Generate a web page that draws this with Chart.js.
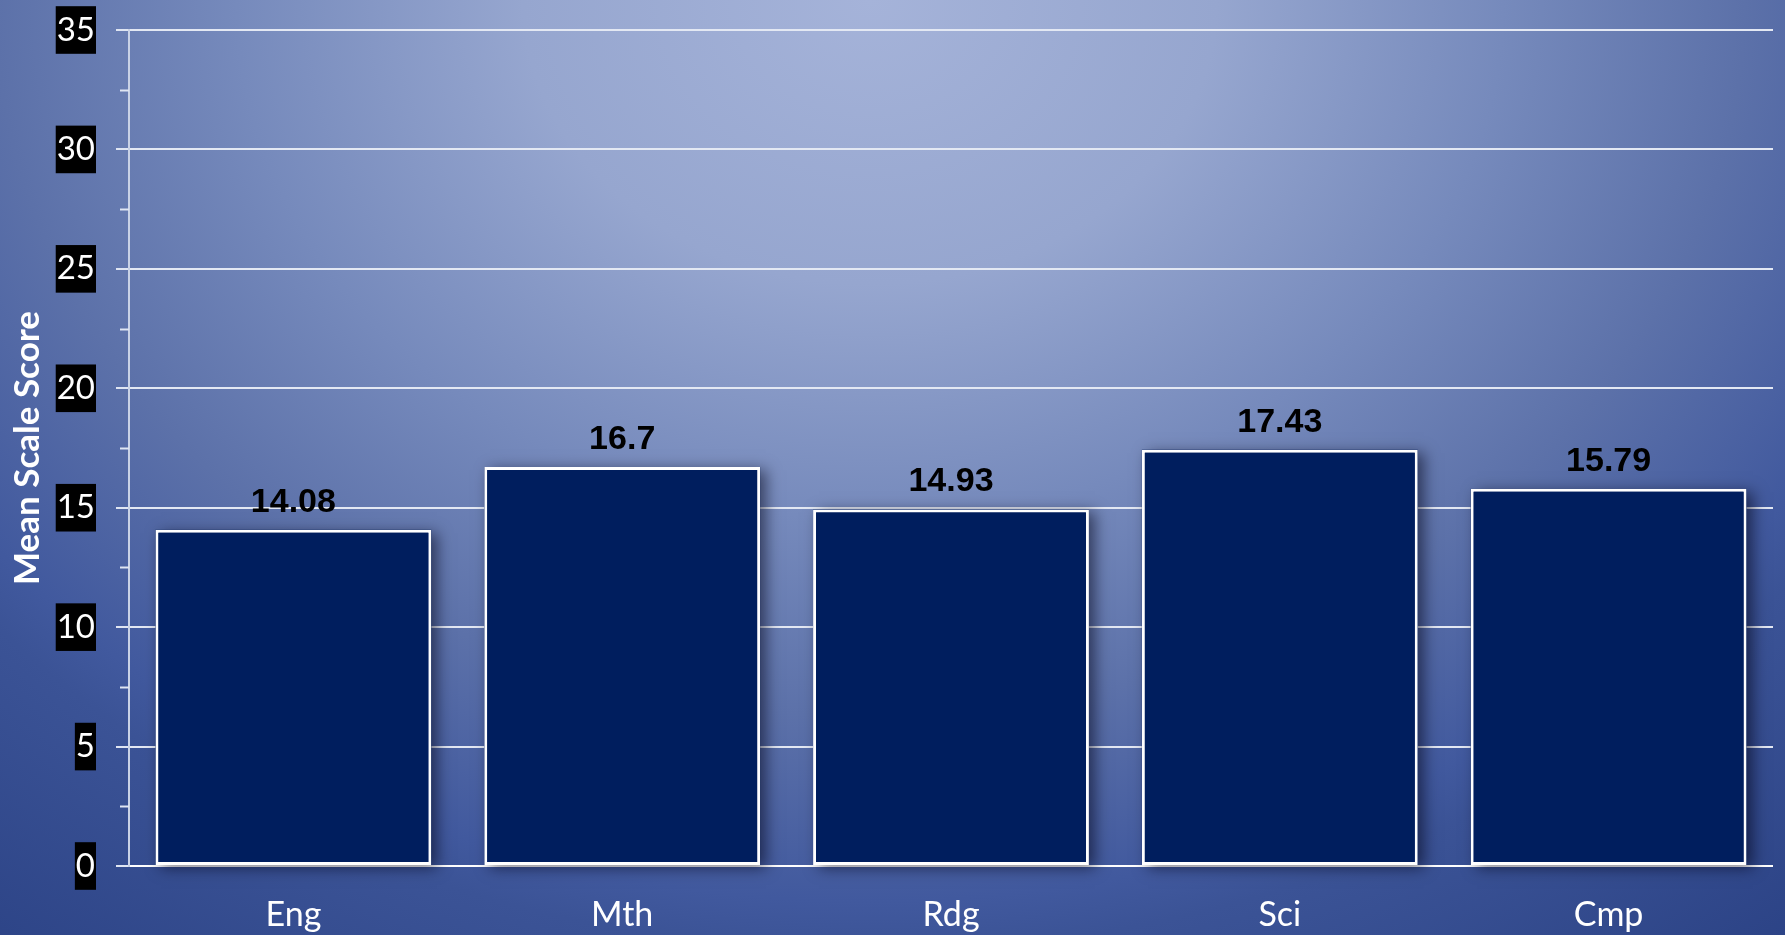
<!DOCTYPE html>
<html>
<head>
<meta charset="utf-8">
<script src="https://cdn.jsdelivr.net/npm/chart.js@4.4.1/dist/chart.umd.min.js"></script>
<style>
    html, body { margin: 0; padding: 0; }
    body { width: 1785px; height: 935px; overflow: hidden; }
    #wrap { position: relative; width: 1785px; height: 935px; }
</style>
</head>
<body>
<div id="wrap"><canvas id="score-chart"></canvas></div>
<script>
/* ======== DATA ======== */
const subjects = ["Eng", "Mth", "Rdg", "Sci", "Cmp"]
const meanScores = [14.08, 16.7, 14.93, 17.43, 15.79]
const yMin = 0
const yMax = 35
const yStep = 5

/* ======== PLUGINS ======== */
// slide style background: light glow at the top, darker blue toward the edges
const backgroundPlugin = {
    id: 'slideBackground',
    beforeDraw(chart) {
        const ctx = chart.ctx
        const sx = 1160 / 950
        ctx.save()
        ctx.translate(870, 0)
        ctx.scale(sx, 1)
        const R = 950 * 1.3
        const g = ctx.createRadialGradient(0, 0, 0, 0, 0, R)
        g.addColorStop(0, '#a5b3d9')
        g.addColorStop(0.23, '#96a6cf')
        g.addColorStop(0.42, '#768abc')
        g.addColorStop(0.58, '#5c71a9')
        g.addColorStop(0.73, '#41599e')
        g.addColorStop(0.77, '#3b5396')
        g.addColorStop(1, '#2a4184')
        ctx.fillStyle = g
        ctx.fillRect(-870 / sx, 0, chart.width / sx, chart.height)
        ctx.restore()
    }
}

// soft drop shadow behind each bar, the bar itself covers the rectangle
const barShadowPlugin = {
    id: 'barShadow',
    beforeDatasetsDraw(chart) {
        const ctx = chart.ctx
        ctx.save()
        ctx.shadowColor = 'rgba(0, 0, 20, 0.55)'
        ctx.shadowBlur = 14
        ctx.shadowOffsetX = 6
        ctx.shadowOffsetY = 3
        ctx.fillStyle = '#001e5e'
        chart.getDatasetMeta(0).data.forEach((bar) => {
            const p = bar.getProps(['x', 'y', 'base', 'width'], true)
            ctx.fillRect(p.x - p.width / 2, p.y, p.width, p.base - p.y)
        })
        ctx.restore()
    }
}

// value labels above the bars
const valueLabelPlugin = {
    id: 'valueLabels',
    afterDatasetsDraw(chart) {
        const ctx = chart.ctx
        ctx.save()
        ctx.font = 'bold 34px "Liberation Sans", Arial, sans-serif'
        ctx.fillStyle = '#000000'
        ctx.textAlign = 'center'
        ctx.textBaseline = 'alphabetic'
        chart.getDatasetMeta(0).data.forEach((bar, i) => {
            const p = bar.getProps(['x', 'y'], true)
            ctx.fillText(String(meanScores[i]), p.x, p.y - 18)
        })
        ctx.restore()
    }
}

// short minor ticks half way between the major ones
const minorTickPlugin = {
    id: 'minorTicks',
    afterDraw(chart) {
        const y = chart.scales.y
        const ctx = chart.ctx
        ctx.save()
        ctx.strokeStyle = '#dfe5f2'
        ctx.lineWidth = 2
        for (let v = yMin + yStep / 2; v < yMax; v += yStep) {
            const py = Math.round(y.getPixelForValue(v)) + 0.5
            ctx.beginPath()
            ctx.moveTo(y.right - 9, py)
            ctx.lineTo(y.right, py)
            ctx.stroke()
        }
        ctx.restore()
    }
}

/* ======== CHART ======== */
const ctxScore = document.getElementById("score-chart").getContext("2d")
const scoreChart = new Chart(ctxScore, {
    type: 'bar',
    data: {
        labels: subjects,
        datasets: [{
            data: meanScores,
            label: "Mean Scale Score",
            backgroundColor: '#001e5e',
            borderColor: '#ffffff',
            borderWidth: 3,
            borderSkipped: false,
            categoryPercentage: 1.0,
            barPercentage: 0.839
        }]
    },
    options: {
        responsive: true,
        maintainAspectRatio: false,
        animation: false,
        layout: {
            padding: { top: 30, right: 12, left: 0, bottom: 0 }
        },
        plugins: {
            legend: { display: false },
            tooltip: { enabled: false }
        },
        scales: {
            x: {
                grid: { display: false, drawTicks: false },
                border: { display: false },
                ticks: {
                    color: '#ffffff',
                    padding: 29,
                    font: { family: 'Lato', size: 34 }
                },
                afterFit(scale) { scale.height = 69 }
            },
            y: {
                min: yMin,
                max: yMax,
                grid: {
                    color: (c) => c.tick && c.tick.value === 0 ? '#ffffff' : '#e3e8f3',
                    lineWidth: 2,
                    tickLength: 13,
                    tickColor: '#dfe5f2'
                },
                border: { display: true, color: '#c9d2e6', width: 2 },
                ticks: {
                    stepSize: yStep,
                    color: '#ffffff',
                    padding: 21,
                    font: { family: 'Lato', size: 33 },
                    showLabelBackdrop: true,
                    backdropColor: '#000000',
                    backdropPadding: { top: 4, bottom: 4, left: 1, right: 1 }
                },
                title: {
                    display: true,
                    text: 'Mean Scale Score',
                    color: '#ffffff',
                    padding: { top: 7, bottom: 0 },
                    font: { family: 'Lato', size: 35, weight: 'bold' }
                },
                afterFit(scale) {
                    scale.width = 129
                    scale.paddingTop = 0
                    scale.paddingBottom = 0
                }
            }
        }
    },
    plugins: [backgroundPlugin, barShadowPlugin, valueLabelPlugin, minorTickPlugin]
})
</script>
</body>
</html>
